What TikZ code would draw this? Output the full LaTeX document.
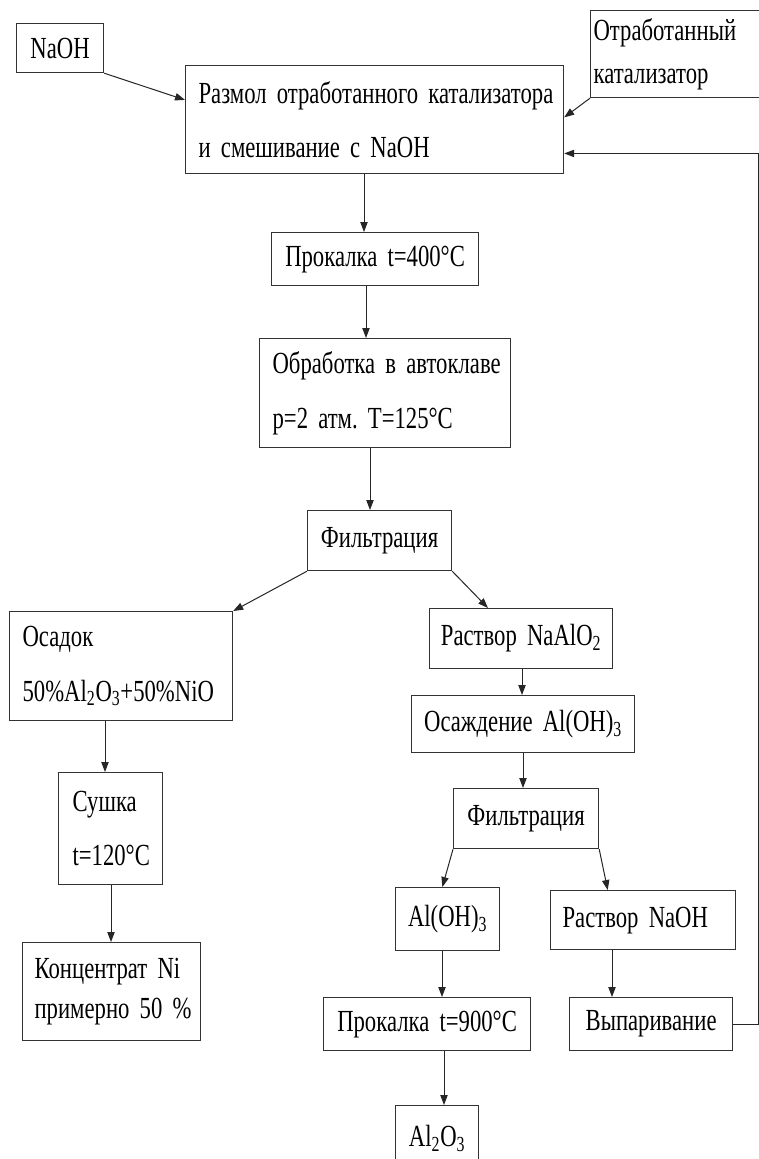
\documentclass[tikz,border=0pt]{standalone}
\usepackage{fontspec}
\setmainfont{Liberation Serif}[FakeStretch=0.74]
\usetikzlibrary{arrows.meta,calc}
\newcommand\bxfont[1]{\fontsize{23}{#1}\selectfont\frenchspacing\spaceskip=3pt plus 1pt minus 0.5pt\relax}
\newcommand\pbox[8]{%
 \pgfmathsetmacro\pbw{(#4-#2-2*#6)*0.75}%
 \pgfmathsetmacro\pbh{(#5-#3)*0.75}%
 \pgfmathsetmacro\pbp{#6*0.75}%
 \node[bx,#7,minimum height=\pbh pt,text width=\pbw pt,inner xsep=\pbp pt] (#1) at (#2,#3) {#8};}
\begin{document}
\begin{tikzpicture}[x=0.75pt,y=-0.75pt,
 bx/.style={draw=black!80, line width=0.9pt, inner sep=0pt, font=\bxfont{41}, anchor=north west},
 arr/.style={draw=black!85, line width=0.75pt, -{Triangle[length=7.5pt,width=5.5pt]}}]
\useasboundingbox (0,0) rectangle (759,1159);
\clip (0,0) rectangle (759,1159);
\fill[white] (0,0) rectangle (759,1159);
\pbox{naoh}{16}{23}{103}{72}{3}{align=center}{NaOH}
\pbox{razmol}{185}{65}{563}{173}{13}{align=left}{\mbox{Размол отработанного катализатора}\\\mbox{и смешивание с NaOH}}
\pbox{otrab}{590}{10}{775}{97}{3}{align=left,font=\bxfont{32}}{\mbox{Отработанный}\\\mbox{катализатор}}
\pbox{prokA}{271}{232}{478}{285}{3}{align=center}{\mbox{Прокалка t=400°C}}
\pbox{obrab}{259}{338}{510}{447}{13}{align=left}{\mbox{Обработка в автоклаве}\\\mbox{p=2 атм. T=125°C}}
\pbox{filtA}{307}{510}{451}{570}{3}{align=center}{Фильтрация}
\pbox{osadok}{9}{611}{232}{720}{13}{align=left}{Осадок\\\mbox{50\%Al\textsubscript{2}O\textsubscript{3}+50\%NiO}}
\pbox{naalo}{429}{608}{612}{668}{3}{align=center}{\mbox{Раствор NaAlO\textsubscript{2}}}
\pbox{osazh}{411}{695}{634}{752}{3}{align=center}{\mbox{Осаждение Al(OH)\textsubscript{3}}}
\pbox{filtB}{453}{788}{598}{848}{3}{align=center}{Фильтрация}
\pbox{sushka}{58}{772}{162}{884}{14}{align=left}{Сушка\\\mbox{t=120°C}}
\pbox{konc}{22}{942}{200}{1040}{12}{align=left,font=\bxfont{30}}{\mbox{Концентрат Ni}\\\mbox{примерно 50 \%}}
\pbox{aloh}{395}{887}{499}{950}{3}{align=center}{Al(OH)\textsubscript{3}}
\pbox{rnaoh}{550}{890}{735}{949}{12}{align=left}{\mbox{Раствор NaOH}}
\pbox{prokB}{323}{997}{530}{1050}{3}{align=center}{\mbox{Прокалка t=900°C}}
\pbox{vypar}{569}{997}{732}{1050}{3}{align=center}{Выпаривание}
\pbox{aloo}{395}{1105}{478}{1170}{3}{align=center}{Al\textsubscript{2}O\textsubscript{3}}
\coordinate (xa) at (364,0);
\coordinate (xb) at (366,0);
\coordinate (xc) at (370,0);
\coordinate (xd) at (105,0);
\coordinate (xe) at (111,0);
\coordinate (xf) at (522,0);
\coordinate (xg) at (523,0);
\coordinate (xh) at (442,0);
\coordinate (xi) at (444,0);
\coordinate (xj) at (612,0);
\draw[arr] (naoh.south east) -- ($(razmol.north west)!0.32!(razmol.south west)$);
\draw[arr] (otrab.south west) -- ($(razmol.north east)!0.48!(razmol.south east)$);
\draw[arr] (vypar.east) -- ++(25,0) |- ($(razmol.north east)!0.81!(razmol.south east)$);
\draw[arr] (razmol.south -| xa) -- (prokA.north -| xa);
\draw[arr] (prokA.south -| xb) -- (obrab.north -| xb);
\draw[arr] (obrab.south -| xc) -- (filtA.north -| xc);
\draw[arr] (filtA.south west) -- (osadok.north east);
\draw[arr] (filtA.south east) -- ($(naalo.north west)!0.32!(naalo.north east)$);
\draw[arr] (osadok.south -| xd) -- (sushka.north -| xd);
\draw[arr] (sushka.south -| xe) -- (konc.north -| xe);
\draw[arr] (naalo.south -| xf) -- (osazh.north -| xf);
\draw[arr] (osazh.south -| xg) -- (filtB.north -| xg);
\draw[arr] (filtB.south west) -- ($(aloh.north west)!0.45!(aloh.north east)$);
\draw[arr] (filtB.south east) -- ($(rnaoh.north west)!0.31!(rnaoh.north east)$);
\draw[arr] (aloh.south -| xh) -- (prokB.north -| xh);
\draw[arr] (prokB.south -| xi) -- (aloo.north -| xi);
\draw[arr] (rnaoh.south -| xj) -- (vypar.north -| xj);
\end{tikzpicture}
\end{document}
